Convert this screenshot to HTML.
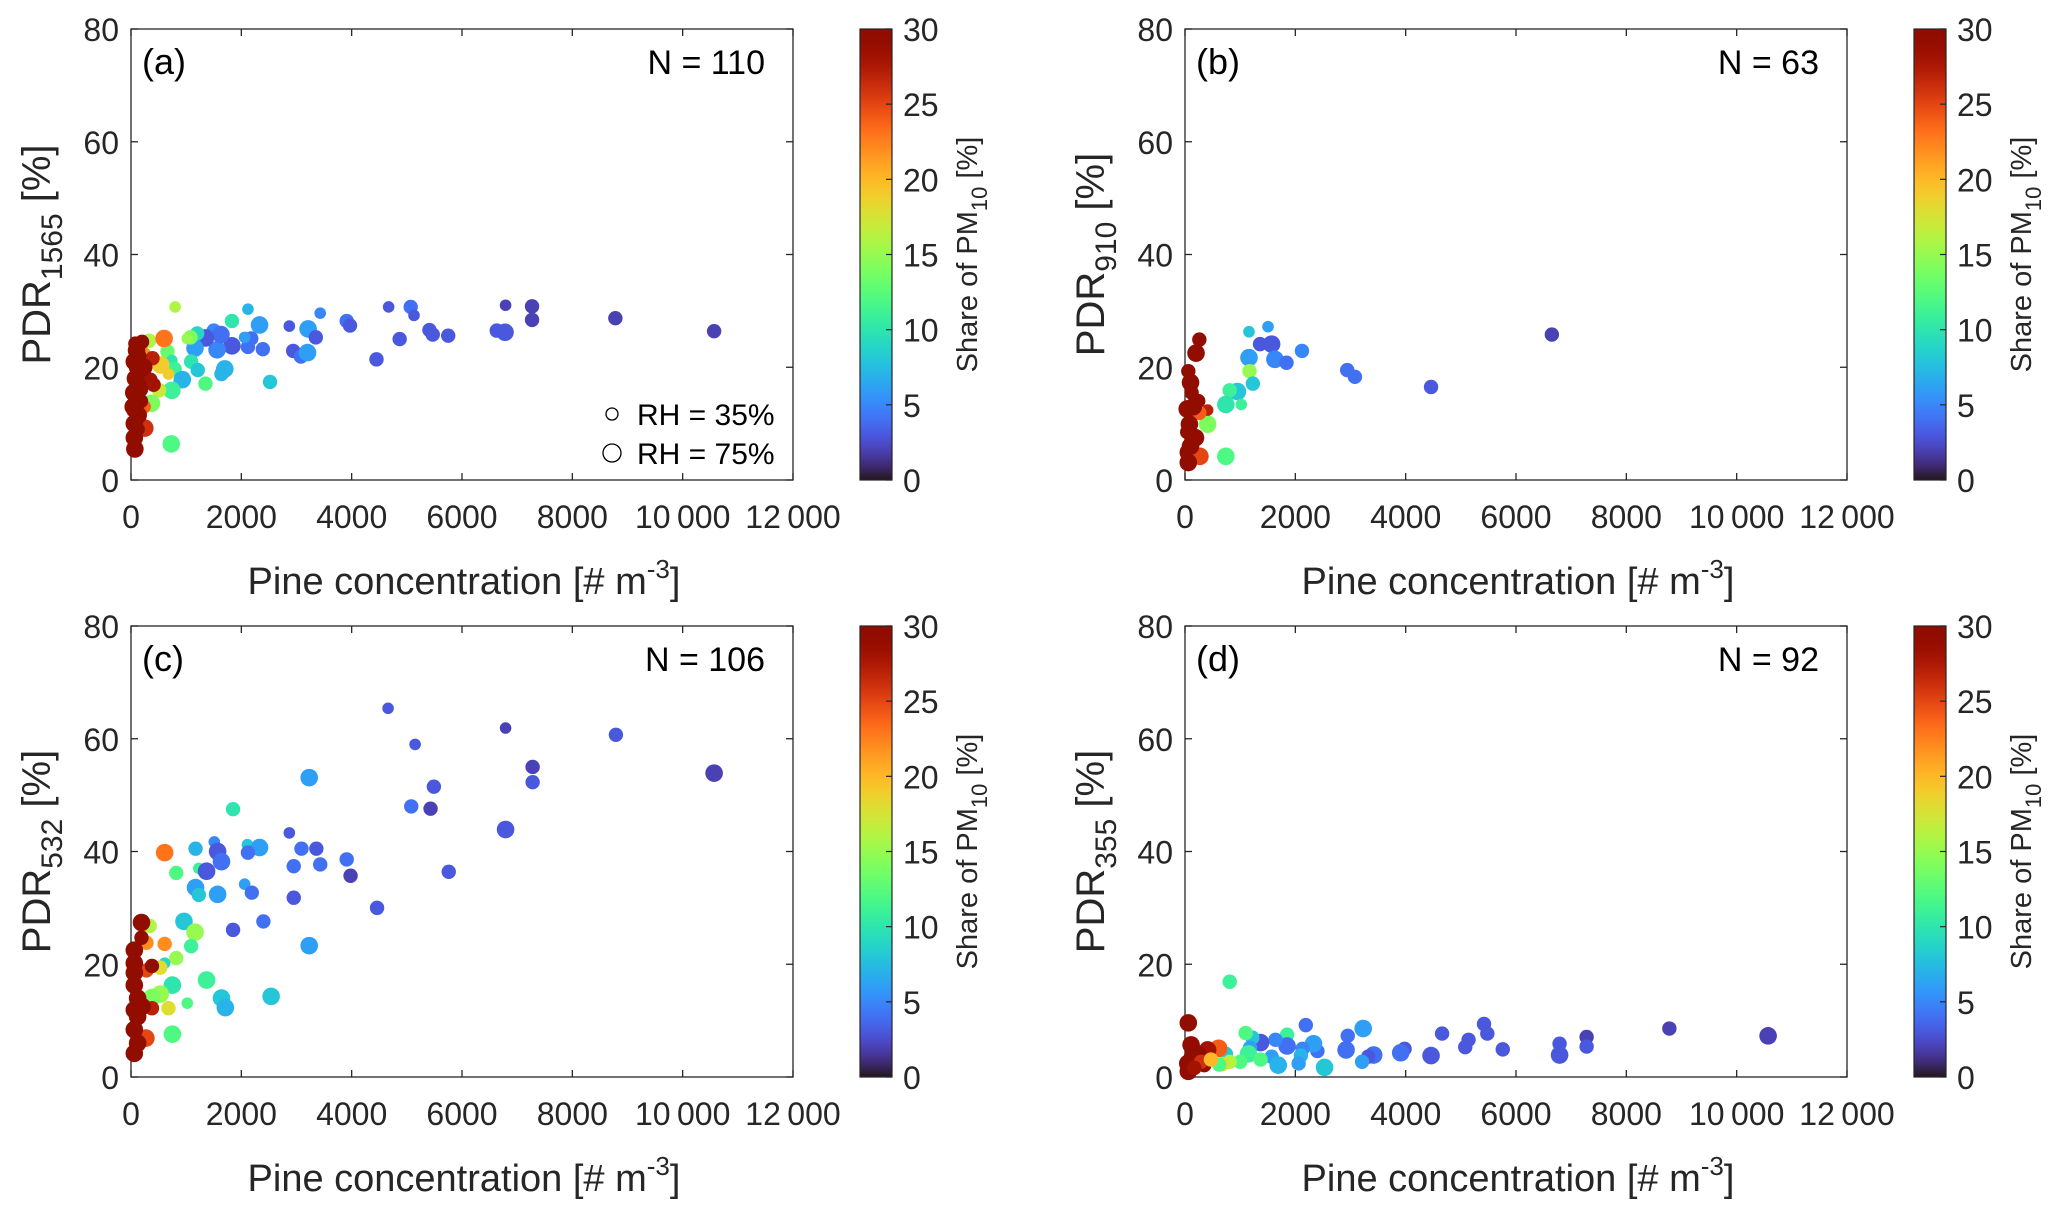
<!DOCTYPE html>
<html><head><meta charset="utf-8"><style>
html,body{margin:0;padding:0;background:#fff;}
svg{display:block;font-family:"Liberation Sans",Arial,sans-serif;}
</style></head><body>
<svg id="fig" width="2067" height="1212" viewBox="0 0 2067 1212"></svg>
<script>
// ---- data (x: pine concentration, y: PDR %, c: share of PM10 %, s: RH size class 0 small..2 large)
const xTicks=[0,2000,4000,6000,8000,10000,12000];
const xTickLabels=["0","2000","4000","6000","8000","10\u2009000","12\u2009000"];
const yTicks=[0,20,40,60,80];
const yTickLabels=["0","20","40","60","80"];
const cTicks=[0,5,10,15,20,25,30];
const cTickLabels=["0","5","10","15","20","25","30"];

const aX=[800,2120,1830,2330,2870,3430,3910,3970,4670,5070,5130,5410,5470,5750,6630,6780,6790,7270,7270,8780,10570,4450,4870,2940,3080,3200,3210,3350,2390,2120,2180,2060,1830,1560,1500,1630,1350,1160,1200,1080,1020,660,740,790,1090,1210,930,1700,1640,2520,1350,740,510,370,540,680,330,600,250,230,250,730,390,350,410,80,100,150,60,120,200,80,150,50,100,180,70,130,60,120,60,70,200,230,40,180];
const aY=[30.7,30.3,28.2,27.5,27.3,29.6,28.2,27.4,30.7,30.7,29.2,26.6,25.8,25.6,26.5,26.2,31.0,30.8,28.4,28.7,26.4,21.4,25.0,22.9,21.9,22.6,26.8,25.3,23.2,23.6,25.1,25.3,23.8,23.1,26.5,25.8,25.2,23.4,26.0,25.3,25.1,22.8,21.2,19.7,21.0,19.5,17.8,19.7,18.8,17.4,17.1,15.9,15.9,13.6,20.4,18.8,24.7,25.1,22.5,13.0,9.2,6.4,21.6,17.8,16.9,24.2,23,22,21,20,19.5,18,17,15.5,15,14,12.5,11.5,10,9,7.5,5.5,24.5,20,13,16];
const aC=[16,7,10,6,3,5,4,3,3,4,3,3,3,3,3,3,2,2,2,2,2,3,3,3,4,6,6,3,4,4,4,6,3,5,5,4,3,6,9,14,15,13,10,11,10,8,7,7,7,8,12,11,17,14,19,19,16,23,22,24,26,12,27,28,28,30,30,30,30,30,30,30,30,30,30,30,30,30,30,30,30,30,30,29,30,30];
const aS=[0,0,1,2,0,0,1,1,0,1,0,1,1,1,1,2,0,1,1,1,1,1,1,1,1,2,2,1,1,1,1,0,2,2,1,2,2,2,1,1,0,1,0,1,1,1,2,2,1,1,1,2,1,2,2,0,1,2,0,1,2,2,1,1,1,1,2,1,2,2,1,2,1,2,2,1,2,2,2,1,2,2,1,2,2,1];

const bX=[6650,1505,1160,1360,1570,2120,1160,1630,1840,2940,3080,4460,1170,1230,950,810,740,1020,410,740,260,200,60,100,120,240,410,260,40,80,190,40,60,270,60,150,100];
const bY=[25.8,27.2,26.3,24.1,24.1,22.9,21.7,21.4,20.8,19.5,18.3,16.5,19.3,17.1,15.7,15.9,13.4,13.4,9.9,4.2,24.9,22.5,19.3,17.3,15.5,14.0,12.4,11.9,12.6,9.9,7.5,8.5,4.9,4.2,3.1,13.0,6.0];
const bC=[2,6,8,3,3,5,6,5,4,4,4,3,15,8,8,11,10,11,14,12,30,30,30,30,30,29,27,24,30,30,29,30,30,25,30,30,30];
const bS=[1,0,0,1,2,1,2,2,1,1,1,1,1,1,2,1,2,0,2,2,1,2,1,2,1,1,0,1,2,2,2,1,2,2,2,2,2];

const cX=[4660,6790,8790,5150,7280,10570,7280,5490,3230,5080,5430,1850,6790,2870,1510,1170,610,1570,2110,2330,2120,3090,3360,1640,2950,3430,3910,3980,5760,820,1230,1370,1170,1230,1570,2060,2190,2950,4460,960,1160,1850,2400,3230,340,1090,610,280,820,610,530,280,1370,750,530,380,1020,1640,1710,2540,680,750,270,380,190,190,60,60,380,60,120,60,120,60,120,60,200,60];
const cY=[65.4,61.9,60.7,59.0,55.0,53.9,52.3,51.5,53.1,48.0,47.6,47.5,43.9,43.3,41.7,40.5,39.8,40.0,41.2,40.7,39.8,40.5,40.5,38.2,37.4,37.7,38.6,35.7,36.4,36.2,37.0,36.5,33.6,32.3,32.4,34.2,32.7,31.8,30.0,27.6,25.7,26.1,27.6,23.3,26.8,23.2,23.6,23.8,21.1,20.2,19.4,18.9,17.2,16.3,14.7,14.1,13.1,14.0,12.3,14.3,12.2,7.6,6.9,12.2,27.4,24.7,22.5,20.2,19.7,16.3,14,11.9,10.7,8.4,6.0,4.2,12.5,18.5];
const cC=[3,2,3,3,2,2,3,3,6,4,2,10,3,3,5,7,23,3,8,6,4,4,3,4,4,4,4,2,3,12,11,3,6,8,6,6,4,3,3,8,15,3,4,6,16,11,22,22,15,9,18,25,11,10,15,14,12,8,7,8,18,12,25,27,30,30,30,30,30,30,30,30,30,30,30,30,29,30];
const cS=[0,0,1,0,1,2,1,1,2,1,1,1,2,0,0,1,2,2,0,2,1,1,1,2,1,1,1,1,1,1,0,2,2,1,2,0,1,1,1,2,2,1,1,2,1,1,1,1,1,0,1,1,2,2,2,2,0,2,2,2,1,2,2,1,2,1,2,2,1,2,2,2,2,2,2,2,2,2];

const dX=[810,60,2190,3230,5420,8780,10570,4660,5480,5140,7280,7280,6790,6790,5760,5080,4460,3980,3910,2950,2920,3420,3320,3210,2400,2330,2130,2100,2060,2530,1850,1850,1640,1370,1220,1100,1180,1150,1570,1690,1370,1000,740,810,680,610,620,410,350,230,110,130,50,60,290,470,170];
const dY=[16.9,9.6,9.2,8.6,9.4,8.6,7.3,7.7,7.7,6.6,7.1,5.4,5.9,3.9,4.9,5.3,3.8,5.0,4.3,7.3,4.8,3.9,3.6,2.7,4.6,5.9,5.0,3.8,2.4,1.7,7.5,5.5,6.6,6.1,7.0,7.8,5.2,4.1,3.6,2.1,3.1,2.7,4.1,2.7,2.3,5.1,2.2,4.8,2.1,4.1,5.7,3.4,2.4,1.0,2.7,3.1,1.6];
const dC=[11,30,4,6,3,2,2,3,3,3,2,3,3,3,3,3,3,3,4,4,4,4,3,6,4,6,5,7,6,8,11,4,5,3,8,12,6,11,6,7,12,12,8,16,18,24,12,28,29,30,29,30,30,30,26,20,28];
const dS=[1,2,1,2,1,1,2,1,1,1,1,1,1,2,1,1,2,1,2,1,2,2,1,1,1,2,1,1,1,2,1,2,1,2,1,1,1,2,1,2,1,1,1,1,1,2,1,2,1,2,2,2,2,2,1,1,1];

const panels=[
 {id:"a",label:"(a)",n:"N =  110",sub:"1565",X:aX,Y:aY,C:aC,S:aS,left:131,top:29,legend:true},
 {id:"b",label:"(b)",n:"N =  63",sub:"910",X:bX,Y:bY,C:bC,S:bS,left:1185,top:29,legend:false},
 {id:"c",label:"(c)",n:"N =  106",sub:"532",X:cX,Y:cY,C:cC,S:cS,left:131,top:626,legend:false},
 {id:"d",label:"(d)",n:"N =  92",sub:"355",X:dX,Y:dY,C:dC,S:dS,left:1185,top:626,legend:false}
];
const W=662,H=451,XMAX=12000,YMAX=80,CMAX=30;
const radii=[5.8,7.2,8.8];

function turbo(t){t=Math.max(0,Math.min(1,t));
 const r=0.13572138+t*(4.61539260+t*(-42.66032258+t*(132.13108234+t*(-152.94239396+t*59.28637943))));
 const g=0.09140261+t*(2.19418839+t*(4.84296658+t*(-14.18503333+t*(4.27729857+t*2.82956604))));
 const b=0.10667330+t*(12.64194608+t*(-60.58204836+t*(110.36276771+t*(-89.90310912+t*27.34824973))));
 const f=v=>Math.round(255*Math.max(0,Math.min(1,v)));
 return `rgb(${f(r)},${f(g)},${f(b)})`;}

const NS="http://www.w3.org/2000/svg";
const svg=document.getElementById('fig');
function mk(tag,attrs,parent){const e=document.createElementNS(NS,tag);for(const k in attrs)e.setAttribute(k,attrs[k]);(parent||svg).appendChild(e);return e;}

const defs=mk('defs',{});
const grad=mk('linearGradient',{id:'turboGrad',x1:0,y1:1,x2:0,y2:0},defs);
for(let i=0;i<=40;i++){mk('stop',{offset:(i/40),'stop-color':turbo(i/40)},grad);}

panels.forEach(p=>{
 const g=mk('g',{});
 
 
 const sx=v=>p.left+v/XMAX*W, sy=v=>p.top+H-v/YMAX*H;
 const box=mk('rect',{x:p.left,y:p.top,width:W,height:H,fill:'#fff',stroke:'#262626','stroke-width':1.3},g);
 
 
 xTicks.forEach((t,i)=>{
  const x=sx(t);
  mk('line',{x1:x,y1:p.top+H,x2:x,y2:p.top+H-7,stroke:'#262626','stroke-width':1.3},g);
  mk('line',{x1:x,y1:p.top,x2:x,y2:p.top+7,stroke:'#262626','stroke-width':1.3},g);
  const tx=mk('text',{x:x,y:p.top+H+48,'font-size':32,'text-anchor':'middle',fill:'#262626'},g);
  tx.textContent=xTickLabels[i];
  
  
 });
 yTicks.forEach((t,i)=>{
  const y=sy(t);
  mk('line',{x1:p.left,y1:y,x2:p.left+7,y2:y,stroke:'#262626','stroke-width':1.3},g);
  mk('line',{x1:p.left+W,y1:y,x2:p.left+W-7,y2:y,stroke:'#262626','stroke-width':1.3},g);
  const ty=mk('text',{x:p.left-12,y:y+12,'font-size':32,'text-anchor':'end',fill:'#262626'},g);
  ty.textContent=yTickLabels[i];
  
  
 });
 for(let i=0;i<p.X.length;i++){
  const c=mk('circle',{cx:sx(p.X[i]),cy:sy(p.Y[i]),r:radii[p.S[i]],fill:turbo(p.C[i]/CMAX)},g);
  
  
 }
 const lb=mk('text',{x:p.left+11,y:p.top+45,'font-size':36,fill:'#000'},g);
 lb.textContent=p.label;
 
 
 const nn=mk('text',{x:p.left+W-28,y:p.top+45,'font-size':34,'text-anchor':'end',fill:'#000'},g);
 nn.textContent=p.n;
 
 
 const xl=mk('text',{x:p.left+W/2+2,y:p.top+H+114,'font-size':38,'text-anchor':'middle',fill:'#262626'},g);
 
 
 xl.appendChild(document.createTextNode('Pine concentration [# m'));
 const sup=mk('tspan',{dy:-16,'font-size':26},xl);sup.textContent='-3';
 const cl=mk('tspan',{dy:16},xl);cl.textContent=']';
 const cx=p.left-95, cy=p.top+H/2;
 const yl=mk('text',{x:cx,y:cy+14,'font-size':40,'text-anchor':'middle',fill:'#262626',transform:`rotate(-90 ${cx} ${cy})`},g);
 
 
 yl.appendChild(document.createTextNode('PDR'));
 const sb=mk('tspan',{dy:12,'font-size':30},yl);sb.textContent=p.sub;
 const rest=mk('tspan',{dy:-12},yl);rest.textContent=' [%]';
 const cbx=p.left+729;
 const cb=mk('rect',{x:cbx,y:p.top,width:32,height:H,fill:'url(#turboGrad)',stroke:'#262626','stroke-width':1.2},g);
 
 
 cTicks.forEach((t,i)=>{
  const y=p.top+H-t/CMAX*H;
  mk('line',{x1:cbx+32,y1:y,x2:cbx+26,y2:y,stroke:'#262626','stroke-width':1.2},g);
  const tt=mk('text',{x:cbx+43,y:y+12,'font-size':32,fill:'#262626'},g);
  tt.textContent=cTickLabels[i];
  
  
 });
 const lx=p.left+836, ly=p.top+H/2;
 const ct=mk('text',{x:lx,y:ly+10,'font-size':29,'text-anchor':'middle',fill:'#262626',transform:`rotate(-90 ${lx} ${ly})`},g);
 
 
 ct.appendChild(document.createTextNode('Share of PM'));
 const s10=mk('tspan',{dy:10,'font-size':22},ct);s10.textContent='10';
 const s2=mk('tspan',{dy:-10},ct);s2.textContent=' [%]';
 if(p.legend){
  [[6,414,'RH = 35%'],[9,453,'RH = 75%']].forEach(([r,y,t])=>{
   const c=mk('circle',{cx:612,cy:y,r:r,fill:'none',stroke:'#000','stroke-width':1.3},g);
   
   
   const tx=mk('text',{x:637,y:y+11,'font-size':30,fill:'#000'},g);
   tx.textContent=t;
   
   
  });
 }
});
</script>
</body></html>
